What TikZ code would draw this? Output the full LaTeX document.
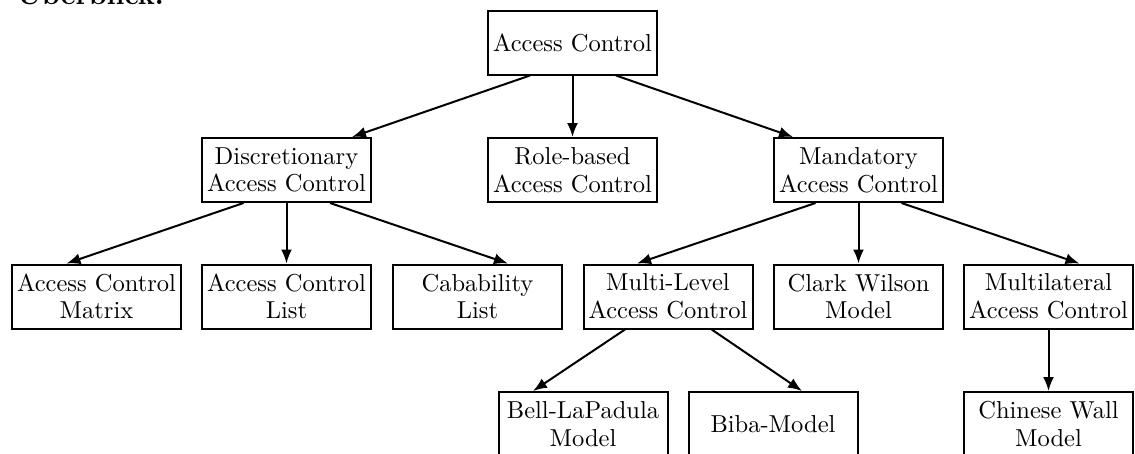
\documentclass[tikz,border=0pt]{standalone}
\usepackage{fontspec}
\setmainfont{lmroman10}[Extension=.otf, UprightFont=*-regular, BoldFont=*-bold, ItalicFont=*-italic, BoldItalicFont=*-bolditalic]
\usetikzlibrary{arrows.meta}
\begin{document}
\begin{tikzpicture}[x=1pt,y=-1pt,
  box/.style={draw, line width=2pt, minimum width=169pt, minimum height=64pt,
    inner sep=2pt, align=center, font=\fontsize{24.5}{27.6}\selectfont},
  arr/.style={line width=2pt, -{Latex[length=14pt,width=11pt]}},
  heading/.style={anchor=base west, inner sep=0pt, font=\bfseries\fontsize{28}{34}\selectfont}]
\useasboundingbox (0,0) rectangle (1135,453);
\node[heading] (head) at (17,4) {Überblick:};
% level 1
\node[box] (ac) at (572.5,42.5) {Access Control};
% level 2
\node[box] (dac) at (286.5,170) {Discretionary\\Access Control};
\node[box] (rbac) at (572.5,170) {Role-based\\Access Control};
\node[box] (mac) at (858.5,170) {Mandatory\\Access Control};
% level 3
\node[box] (acm) at (96.5,296.5) {Access Control\\Matrix};
\node[box] (acl) at (286.5,296.5) {Access Control\\List};
\node[box] (cap) at (477.5,296.5) {Cabability\\List};
\node[box] (mlac) at (668,296.5) {Multi-Level\\Access Control};
\node[box] (cw) at (858.5,296.5) {Clark Wilson\\Model};
\node[box] (mlat) at (1048.5,296.5) {Multilateral\\Access Control};
% level 4
\node[box] (blp) at (583,424) {Bell-LaPadula\\Model};
\node[box] (biba) at (773,424) {Biba-Model};
\node[box] (chw) at (1048.5,424) {Chinese Wall\\Model};
% connectors
\draw[arr] ([xshift=-42.5pt]ac.south) -- ([xshift=65.5pt]dac.north);
\draw[arr] (ac.south) -- (rbac.north);
\draw[arr] ([xshift=43.5pt]ac.south) -- ([xshift=-65.5pt]mac.north);
\draw[arr] ([xshift=-43pt]dac.south) -- ([xshift=-30pt]acm.north);
\draw[arr] (dac.south) -- (acl.north);
\draw[arr] ([xshift=43.5pt]dac.south) -- ([xshift=30.5pt]cap.north);
\draw[arr] ([xshift=-43pt]mac.south) -- ([xshift=-31pt]mlac.north);
\draw[arr] (mac.south) -- (cw.north);
\draw[arr] ([xshift=43pt]mac.south) -- ([xshift=31pt]mlat.north);
\draw[arr] ([xshift=-43pt]mlac.south) -- ([xshift=-50pt]blp.north);
\draw[arr] ([xshift=43.7pt]mlac.south) -- ([xshift=29pt]biba.north);
\draw[arr] (mlat.south) -- (chw.north);
\end{tikzpicture}
\end{document}
